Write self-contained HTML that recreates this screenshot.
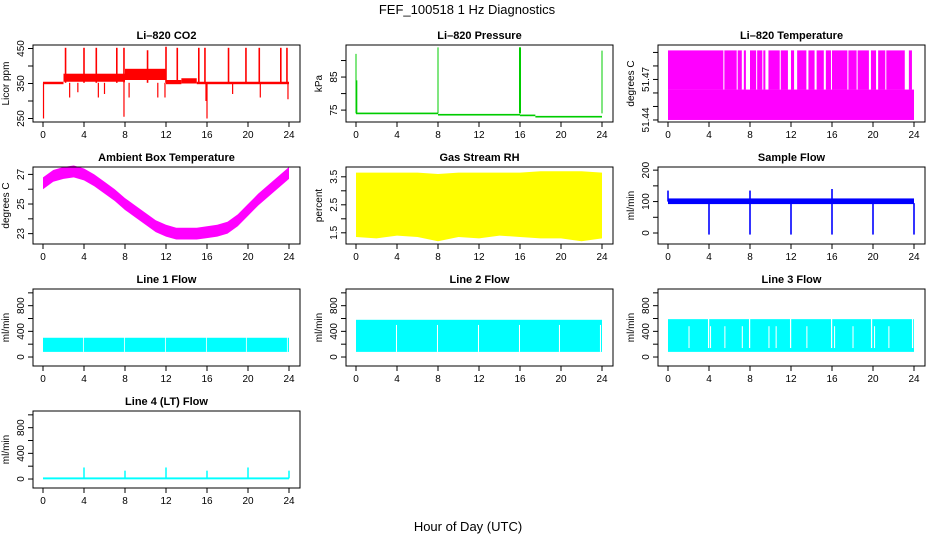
<!DOCTYPE html>
<html><head><meta charset="utf-8">
<style>
html,body{margin:0;padding:0;background:#fff;}
svg{display:block;font-family:"Liberation Sans",sans-serif;}
</style></head>
<body>
<svg id="chart" width="936" height="540" viewBox="0 0 936 540" xmlns="http://www.w3.org/2000/svg">
<rect width="936" height="540" fill="#fff"/>
<text x="467" y="14" text-anchor="middle" font-size="13">FEF_100518  1 Hz Diagnostics</text>
<text x="468" y="531" text-anchor="middle" font-size="13">Hour of Day (UTC)</text>
<g id="panels"></g>
</svg>
<script>
// ---- data arrays (hour of day) ----
const xTicks = [0,4,8,12,16,20,24];
// CO2
const co2Segs = [[0,2,348,355],[2,8,355,378],[8,12,360,392],[12,13.5,348,360],[13.5,15,350,365],[15,24,348,355]];
const co2SpikeHours = [2.2,4,5.2,7.2,7.9,10.2,12,13.1,15.2,15.8,18.1,19.8,21.1,23.2,23.8];
const co2SpikeTops = [452,452,452,452,452,445,455,452,452,452,452,452,452,452,452];
const co2DipHours = [0.05,2.6,3.4,5.4,6.0,7.9,8.4,11.2,11.9,15.9,16,18.5,21.2,23.9];
const co2DipVals = [250,310,325,310,320,255,310,310,310,300,250,320,310,305];
// pressure
const presSegs = [[0,8,74.0],[8,16,73.6],[16,17.5,73.4],[17.5,24,73.0]];
const presSpikeHours = [0,0.08,8,16,24];
const presSpikeTops = [92,84,94,94,93];
// Li-820 temperature
const tempLow = 51.44, tempMid = 51.4625, tempHigh = 51.4915;
const tempHighIntervals = [[0,5.4],[5.5,6.7],[6.8,7.2],[7.4,7.6],[8.0,8.6],[8.7,9.2],[9.3,9.5],[9.8,10.9],[11.0,11.7],[12.0,12.3],[12.6,13.5],[13.7,14.3],[14.5,15.2],[15.4,15.9],[16.0,17.5],[17.6,18.4],[18.5,19.6],[19.8,20.3],[20.5,21.2],[21.3,23.1],[23.5,23.8]];
// ambient box temperature (hourly centre)
const ambHours = [0,1,2,3,4,5,6,7,8,9,10,11,12,13,14,15,16,17,18,19,20,21,22,23,24];
const ambTemp = [26.4,26.9,27.1,27.2,27.0,26.6,26.1,25.6,25.0,24.5,24.0,23.5,23.2,23.0,23.0,23.0,23.1,23.2,23.4,23.9,24.6,25.3,25.9,26.5,27.1];
// gas stream RH
const rhHours = [0,2,4,6,8,10,12,14,16,18,20,22,24];
const rhTop = [3.65,3.65,3.65,3.65,3.6,3.65,3.65,3.65,3.65,3.7,3.7,3.7,3.65];
const rhBottom = [1.35,1.3,1.4,1.35,1.2,1.35,1.3,1.4,1.35,1.3,1.3,1.2,1.3];
// sample flow
const sfSegs = [[0,24,92,110]];
const sfDipHours = [4,8,12,16,20,24];
const sfSpikeHours = [0,8,16];
const sfSpikeVals = [135,135,140];
// line flows
const flowGapHours = [3.9,7.9,11.9,15.9,19.8,23.8];
const l1Band = [80,300];
const l2Band = [80,580];
const l3Band = [80,590];
const l3Streaks = [2.0,4.1,5.5,7.2,9.8,10.5,13.5,16.2,18.0,20.1,21.5];
const l4Base = 10;
const l4SpikeHours = [4,8,12,16,20,24];
const l4SpikeVals = [180,130,180,130,180,130];

// ---- layout ----
const colLeft = [33, 346, 658];
const rowTop = [45, 167, 289, 411];
const boxW = 267, boxH = 77;
const NS = 'http://www.w3.org/2000/svg';
const root = document.getElementById('panels');
function mk(tag, attrs, parent){ const e=document.createElementNS(NS,tag); for(const k in attrs) e.setAttribute(k,attrs[k]); (parent||root).appendChild(e); return e; }

function panel(col,row,title,ylab,ylim,yticks,ylabels,name){
  const L=colLeft[col], T=rowTop[row];
  const g=mk('g',{});
  
  
  const xs=h=>L+10+h*(246/24);
  const ys=v=>T+boxH-(v-ylim[0])/(ylim[1]-ylim[0])*boxH;
  const plot=mk('g',{},g);
  
  
  const box=mk('rect',{x:L,y:T,width:boxW,height:boxH,fill:'none',stroke:'#000','stroke-width':1},g);
  
  
  const t=mk('text',{x:L+boxW/2,y:T-6,'text-anchor':'middle','font-size':11,'font-weight':'bold'},g);
  t.textContent=title;
  
  
  const yl=mk('text',{x:0,y:0,'text-anchor':'middle','font-size':10,transform:`translate(${L-24},${T+boxH/2}) rotate(-90)`},g);
  yl.textContent=ylab;
  
  
  xTicks.forEach(h=>{
    mk('line',{x1:xs(h),x2:xs(h),y1:T+boxH,y2:T+boxH+5,stroke:'#000'},g);
    const tx=mk('text',{x:xs(h),y:T+boxH+16,'text-anchor':'middle','font-size':10},g);
    tx.textContent=h;
    
    
  });
  yticks.forEach((v,i)=>{
    mk('line',{x1:L,x2:L-5,y1:ys(v),y2:ys(v),stroke:'#000'},g);
    if(ylabels[i]!==''){
      const ty=mk('text',{x:0,y:0,'text-anchor':'middle','font-size':10,transform:`translate(${L-9},${ys(v)}) rotate(-90)`},g);
      ty.textContent=ylabels[i];
      
      
    }
  });
  return {xs,ys,g:plot};
}
function band(p,x0,x1,v0,v1,color){ const a=p.ys(v0),b=p.ys(v1); mk('rect',{x:p.xs(x0),y:Math.min(a,b),width:Math.max(0.5,p.xs(x1)-p.xs(x0)),height:Math.abs(a-b),fill:color},p.g); }
function vline(p,h,v0,v1,color,w){ mk('line',{x1:p.xs(h),x2:p.xs(h),y1:p.ys(v0),y2:p.ys(v1),stroke:color,'stroke-width':w||1.3},p.g); }

// CO2
let p=panel(0,0,'Li\u2013820 CO2','Licor ppm',[240,460],[250,300,350,400,450],['250','','350','','450'],'co2');
co2Segs.forEach(s=>band(p,s[0],s[1],s[2],s[3],'#ff0000'));
co2SpikeHours.forEach((h,i)=>vline(p,h,352,co2SpikeTops[i],'#ff0000',1.6));
co2DipHours.forEach((h,i)=>vline(p,h,352,co2DipVals[i],'#ff0000',1.2));

// Pressure
p=panel(1,0,'Li\u2013820 Pressure','kPa',[71.4,94.7],[75,80,85,90],['75','','85',''],'pressure');
presSegs.forEach(s=>band(p,s[0],s[1],s[2]-0.25,s[2]+0.25,'#00cc00'));
presSpikeHours.forEach((h,i)=>vline(p,h,74,presSpikeTops[i],'#00cc00',i===3?2:1));

// Li-820 Temperature
p=panel(2,0,'Li\u2013820 Temperature','degrees C',[51.4385,51.4955],[51.44,51.45,51.46,51.47,51.48,51.49],['51.44','','','51.47','',''],'li820-temp');
band(p,0,24,tempLow,tempMid,'#ff00ff');
tempHighIntervals.forEach(s=>band(p,s[0],s[1],tempMid,tempHigh,'#ff00ff'));

// Ambient box temperature
p=panel(0,1,'Ambient Box Temperature','degrees C',[22.3,27.5],[23,24,25,26,27],['23','','25','','27'],'ambient-temp');
{ let top=ambHours.map((h,i)=>p.xs(h)+','+p.ys(ambTemp[i]+0.4)).join(' ');
  let bot=ambHours.slice().reverse().map((h,i)=>p.xs(h)+','+p.ys(ambTemp[ambHours.length-1-i]-0.4)).join(' ');
  mk('polygon',{points:top+' '+bot,fill:'#ff00ff'},p.g); }

// Gas Stream RH
p=panel(1,1,'Gas Stream RH','percent',[1.1,3.85],[1.5,2,2.5,3,3.5],['1.5','','2.5','','3.5'],'rh');
{ let top=rhHours.map((h,i)=>p.xs(h)+','+p.ys(rhTop[i])).join(' ');
  let bot=rhHours.slice().reverse().map((h,i)=>p.xs(h)+','+p.ys(rhBottom[rhHours.length-1-i])).join(' ');
  mk('polygon',{points:top+' '+bot,fill:'#ffff00'},p.g); }

// Sample Flow
p=panel(2,1,'Sample Flow','ml/min',[-35,210],[0,50,100,150,200],['0','','100','','200'],'sample-flow');
sfSegs.forEach(s=>band(p,s[0],s[1],s[2],s[3],'#0000ff'));
sfDipHours.forEach(h=>vline(p,h,95,-5,'#0000ff',1.6));
sfSpikeHours.forEach((h,i)=>vline(p,h,100,sfSpikeVals[i],'#0000ff',1.6));

const flowTicks=[0,200,400,600,800,1000], flowLabels=['0','','400','','800',''];
const flowLim=[-140,1060];
// Line 1
p=panel(0,2,'Line 1 Flow','ml/min',flowLim,flowTicks,flowLabels,'line1-flow');
band(p,0,24,l1Band[0],l1Band[1],'#00ffff');
flowGapHours.forEach(h=>band(p,h,h+0.08,l1Band[0],l1Band[1]+10,'#ffffff'));
// Line 2
p=panel(1,2,'Line 2 Flow','ml/min',flowLim,flowTicks,flowLabels,'line2-flow');
band(p,0,24,l2Band[0],l2Band[1],'#00ffff');
flowGapHours.forEach(h=>band(p,h,h+0.1,l2Band[0],500,'#ffffff'));
// Line 3
p=panel(2,2,'Line 3 Flow','ml/min',flowLim,flowTicks,flowLabels,'line3-flow');
band(p,0,24,l3Band[0],l3Band[1],'#00ffff');
flowGapHours.forEach(h=>band(p,h,h+0.12,l3Band[0]+60,l3Band[1]+10,'#ffffff'));
l3Streaks.forEach(h=>band(p,h,h+0.1,l3Band[0]+60,480,'#ffffff'));
// Line 4
p=panel(0,3,'Line 4 (LT) Flow','ml/min',flowLim,flowTicks,flowLabels,'line4-flow');
band(p,0,24,l4Base-15,l4Base+15,'#00ffff');
l4SpikeHours.forEach((h,i)=>vline(p,h,l4Base,l4SpikeVals[i],'#00ffff',1.5));
</script>
</body></html>
